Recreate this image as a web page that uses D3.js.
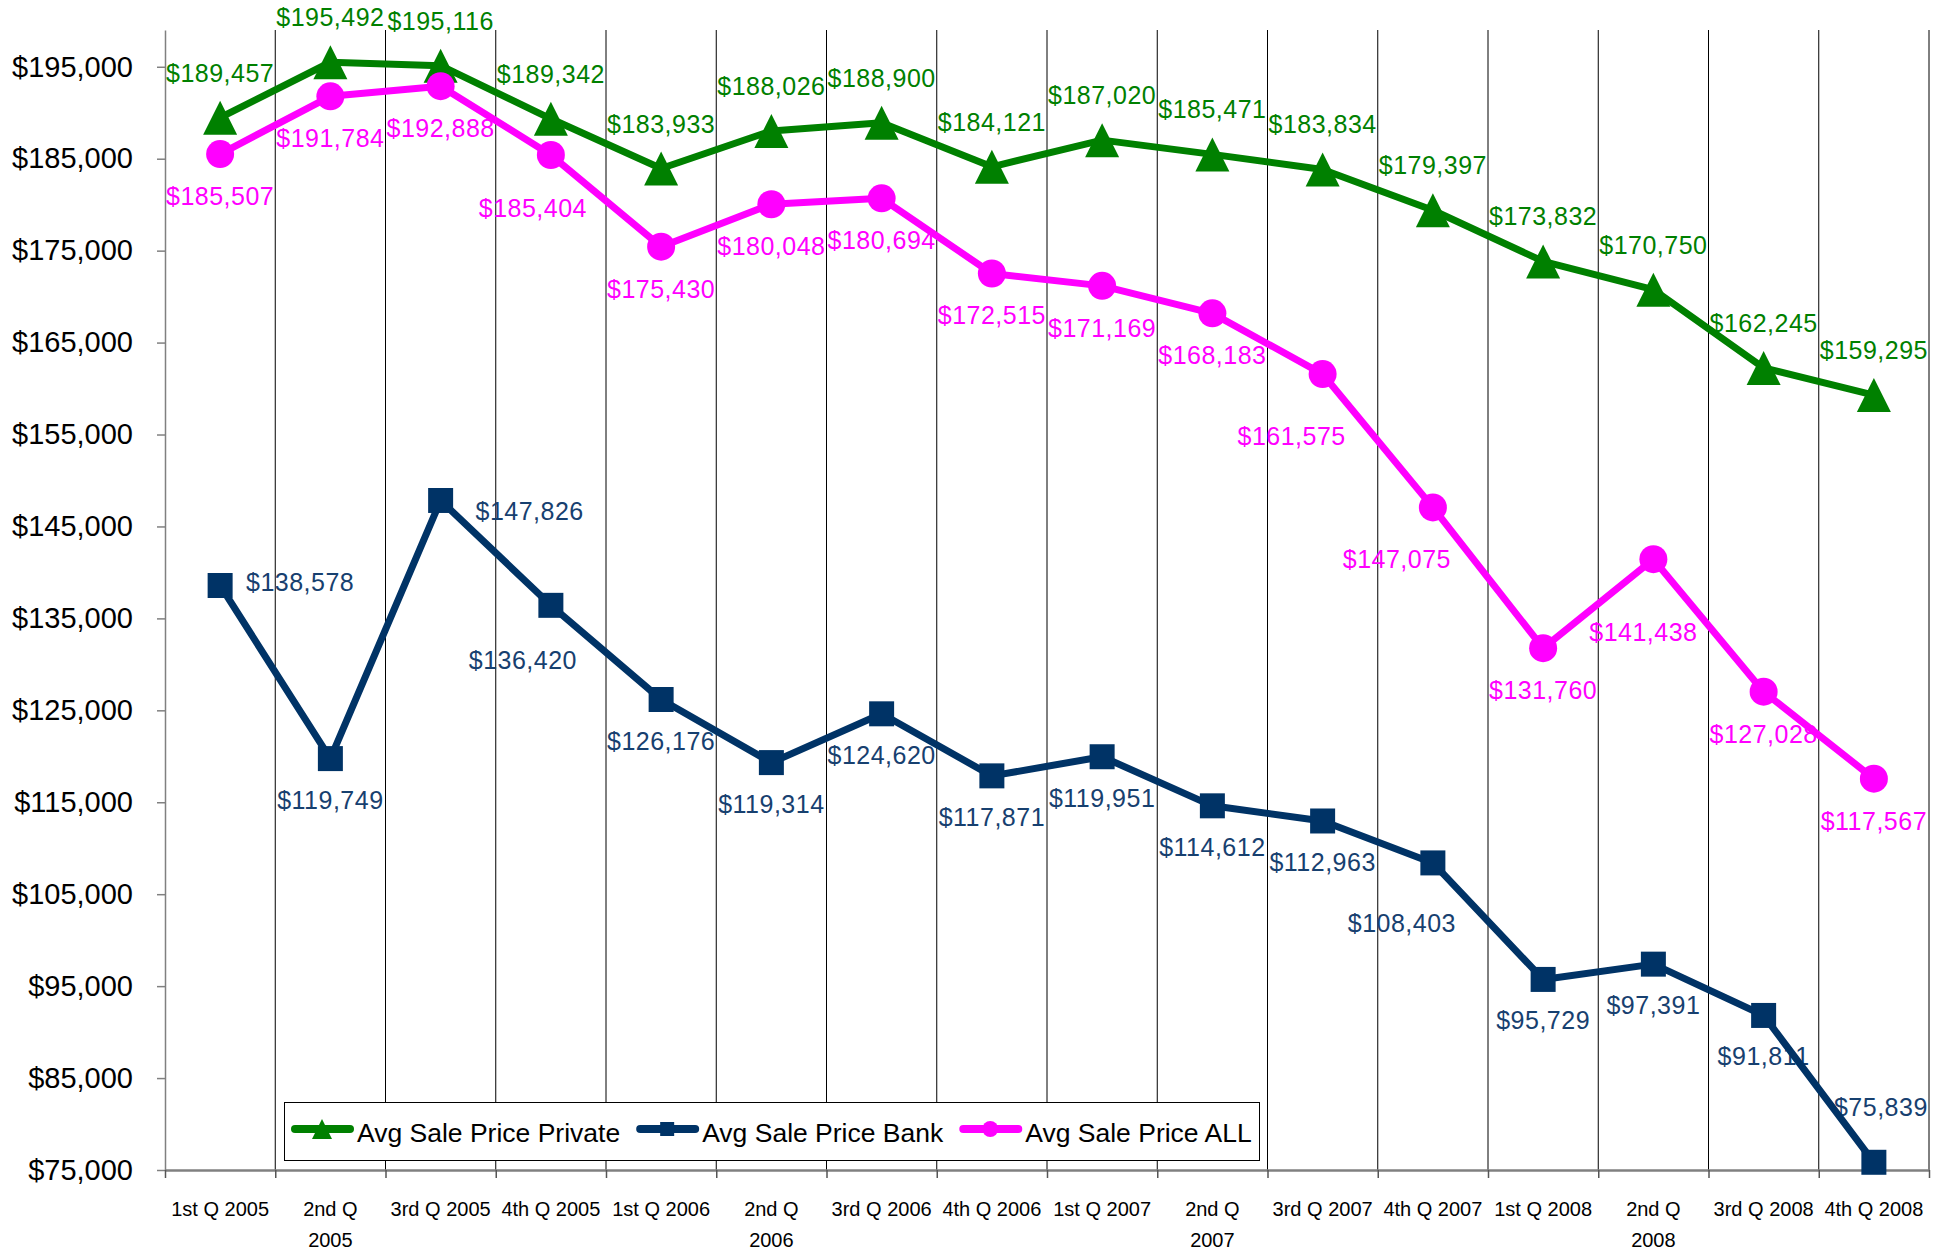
<!DOCTYPE html>
<html>
<head>
<meta charset="utf-8">
<script src="https://cdnjs.cloudflare.com/ajax/libs/d3/7.8.5/d3.min.js"></script>
<style>
  body { margin: 0; background: #fff; }
  text { font-family: "Liberation Sans", Arial, sans-serif; }
</style>
</head>
<body>
<script>
var width = 1950;
var height = 1250;

// chart data
var quarters = ['1st Q 2005', '2nd Q 2005', '3rd Q 2005', '4th Q 2005',
  '1st Q 2006', '2nd Q 2006', '3rd Q 2006', '4th Q 2006',
  '1st Q 2007', '2nd Q 2007', '3rd Q 2007', '4th Q 2007',
  '1st Q 2008', '2nd Q 2008', '3rd Q 2008', '4th Q 2008'];
var privatePrice = [189457, 195492, 195116, 189342, 183933, 188026, 188900, 184121,
  187020, 185471, 183834, 179397, 173832, 170750, 162245, 159295];
var bankPrice = [138578, 119749, 147826, 136420, 126176, 119314, 124620, 117871,
  119951, 114612, 112963, 108403, 95729, 97391, 91811, 75839];
var allPrice = [185507, 191784, 192888, 185404, 175430, 180048, 180694, 172515,
  171169, 168183, 161575, 147075, 131760, 141438, 127028, 117567];
var yTicks = [75000, 85000, 95000, 105000, 115000, 125000, 135000,
  145000, 155000, 165000, 175000, 185000, 195000];

// hand-moved data labels (index -> [dx, dy]) as in the original
var bankLabelMoves = { 0: [80, -3], 2: [89, 11], 3: [-28, 55], 11: [-31, 60], 15: [7, -55] };
var allLabelMoves = { 3: [-18, 53], 10: [-31, 62], 11: [-36, 52], 13: [-10, 73] };

var series = [
  { name: 'Avg Sale Price Private', values: privatePrice, color: '#008000', labelColor: '#008000',
    marker: 'triangle', size: 17, legendSize: 10, dy: -45, moves: {} },
  { name: 'Avg Sale Price Bank', values: bankPrice, color: '#003366', labelColor: '#17406f',
    marker: 'square', size: 12.5, legendSize: 7, dy: 41, moves: bankLabelMoves },
  { name: 'Avg Sale Price ALL', values: allPrice, color: '#ff00ff', labelColor: '#ff00ff',
    marker: 'circle', size: 14, legendSize: 8, dy: 42, moves: allLabelMoves }
];

var markerPath = function (type, s) {
  if (type === 'triangle') return 'M0,' + (-s) + 'L' + s + ',' + s + 'L' + (-s) + ',' + s + 'Z';
  if (type === 'square') return 'M' + (-s) + ',' + (-s) + 'h' + (2 * s) + 'v' + (2 * s) + 'h' + (-2 * s) + 'Z';
  return 'M' + (-s) + ',0a' + s + ',' + s + ' 0 1,0 ' + (2 * s) + ',0a' + s + ',' + s + ' 0 1,0 ' + (-2 * s) + ',0Z';
};

var svg = d3.select('body').append('svg')
  .attr('width', width)
  .attr('height', height);

svg.append('rect').attr('width', width).attr('height', height).attr('fill', '#fff');

var plotLeft = 165, plotRight = 1929, plotTop = 30, plotBottom = 1170;

var xBand = d3.scaleBand().domain(quarters).range([plotLeft, plotRight]).padding(0);
var xEdge = d3.scaleLinear().domain([0, quarters.length]).range([plotLeft, plotRight]);
var y = d3.scaleLinear().domain([75000, 199000]).range([plotBottom, plotTop]);
var cx = function (i) { return xBand(quarters[i]) + xBand.bandwidth() / 2; };

// vertical gridlines at category edges
svg.append('g').selectAll('line')
  .data(d3.range(1, quarters.length + 1))
  .enter()
  .append('line')
  .attr('x1', function (d) { return xEdge(d); })
  .attr('x2', function (d) { return xEdge(d); })
  .attr('y1', plotTop)
  .attr('y2', plotBottom)
  .attr('stroke', '#000')
  .attr('stroke-width', 1);

// y axis
var yAxis = svg.append('g')
  .attr('transform', 'translate(' + plotLeft + ',0)')
  .call(d3.axisLeft(y).tickValues(yTicks)
    .tickFormat(function (d) { return '$' + d3.format(',')(d); })
    .tickSize(8).tickSizeOuter(0).tickPadding(24));
yAxis.attr('font-family', null).attr('font-size', null);
yAxis.select('.domain').attr('stroke', '#808080').attr('stroke-width', 1.5);
yAxis.selectAll('.tick line').attr('stroke', '#808080').attr('stroke-width', 1.5);
yAxis.selectAll('.tick text').attr('font-size', 29).attr('fill', '#000');

// x axis line and edge ticks
var xAxis = svg.append('g')
  .attr('transform', 'translate(0,' + plotBottom + ')')
  .call(d3.axisBottom(xEdge).tickValues(d3.range(0, quarters.length + 1))
    .tickFormat('').tickSize(8).tickSizeOuter(0));
xAxis.select('.domain').attr('stroke', '#808080').attr('stroke-width', 2.5);
xAxis.selectAll('.tick line').attr('stroke', '#555').attr('stroke-width', 1.5);

// category labels, wrapped when too wide for the band
var xLabels = svg.append('g').selectAll('text')
  .data(quarters)
  .enter()
  .append('text')
  .attr('x', function (d) { return xBand(d) + xBand.bandwidth() / 2; })
  .attr('y', 1216)
  .attr('text-anchor', 'middle')
  .attr('font-size', 20)
  .attr('fill', '#000')
  .text(function (d) { return d; });

xLabels.each(function (d) {
  var t = d3.select(this);
  if (this.getComputedTextLength() > 102) {
    var cut = d.lastIndexOf(' ');
    var x = t.attr('x');
    t.text(null);
    t.append('tspan').attr('x', x).text(d.slice(0, cut));
    t.append('tspan').attr('x', x).attr('dy', 31).text(d.slice(cut + 1));
  }
});

// data labels (drawn under the lines, as in the original)
series.forEach(function (s) {
  svg.append('g').selectAll('text')
    .data(s.values)
    .enter()
    .append('text')
    .attr('x', function (d, i) { return cx(i) + (s.moves[i] ? s.moves[i][0] : 0); })
    .attr('y', function (d, i) { return y(d) + (s.moves[i] ? s.moves[i][1] : s.dy) + 9; })
    .attr('text-anchor', 'middle')
    .attr('font-size', 25)
    .attr('letter-spacing', 0.5)
    .attr('fill', s.labelColor)
    .text(function (d) { return '$' + d3.format(',')(d); });
});

// lines and markers
var line = d3.line()
  .x(function (d, i) { return cx(i); })
  .y(function (d) { return y(d); });

series.forEach(function (s) {
  svg.append('path')
    .datum(s.values)
    .attr('d', line)
    .attr('fill', 'none')
    .attr('stroke', s.color)
    .attr('stroke-width', 7)
    .attr('stroke-linejoin', 'round');

  svg.append('g').selectAll('path')
    .data(s.values)
    .enter()
    .append('path')
    .attr('transform', function (d, i) { return 'translate(' + cx(i) + ',' + y(d) + ')'; })
    .attr('d', markerPath(s.marker, s.size))
    .attr('fill', s.color);
});

// legend
var legend = svg.append('g');
legend.append('rect')
  .attr('x', 284.5).attr('y', 1102.5)
  .attr('width', 975).attr('height', 58)
  .attr('fill', '#fff')
  .attr('stroke', '#000')
  .attr('stroke-width', 1);

var lx = 292;
series.forEach(function (s) {
  var ly = 1129;
  legend.append('line')
    .attr('x1', lx + 3).attr('x2', lx + 58)
    .attr('y1', ly).attr('y2', ly)
    .attr('stroke', s.color)
    .attr('stroke-width', 8)
    .attr('stroke-linecap', 'round');
  legend.append('path')
    .attr('transform', 'translate(' + (lx + 30) + ',' + ly + ')')
    .attr('d', markerPath(s.marker, s.legendSize))
    .attr('fill', s.color);
  var t = legend.append('text')
    .attr('x', lx + 65)
    .attr('y', 1142)
    .attr('font-size', 26.5)
    .attr('fill', '#000')
    .text(s.name);
  lx = lx + 65 + t.node().getComputedTextLength() + 17;
});
</script>
</body>
</html>
